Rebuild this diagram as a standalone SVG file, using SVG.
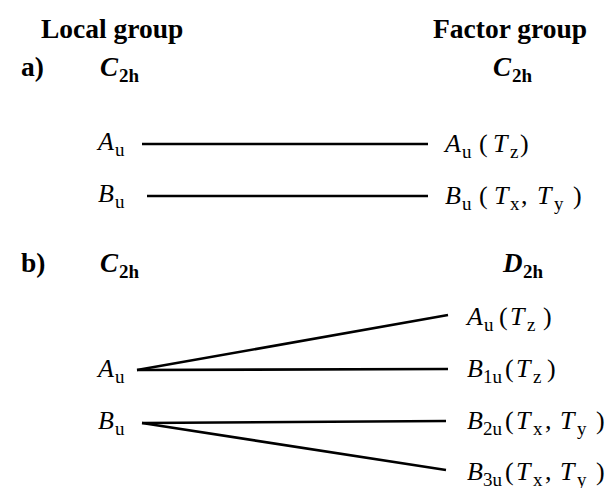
<svg xmlns="http://www.w3.org/2000/svg" width="613" height="488" viewBox="0 0 613 488">
<style>
text{font-family:"Liberation Serif","Times New Roman",serif;fill:#000}
.h{font-weight:bold;font-size:27.5px}
.g{font-weight:bold;font-style:italic;font-size:27px}
.gs{font-weight:bold;font-style:normal;font-size:19px}
.m{font-style:italic;font-size:26px}
.s{font-style:normal;font-size:19px}
.p{font-style:normal;font-size:26px}
.c line{stroke:#000;stroke-width:2.6;fill:none}
</style>
<rect width="613" height="488" fill="#fff"/>
<g id="titles">
<text class="h" x="41" y="38">Local group</text>
<text class="h" x="433" y="38">Factor group</text>
<text class="h" x="21" y="76">a)</text>
<text class="h" x="21" y="272">b)</text>
</g>
<g id="a-local-group"><text class="g" x="100" y="76">C<tspan class="gs" x="119" y="82">2h</tspan></text></g>
<g id="a-factor-group"><text class="g" x="493" y="76">C<tspan class="gs" x="512" y="82">2h</tspan></text></g>
<g id="b-local-group"><text class="g" x="100" y="272">C<tspan class="gs" x="119" y="278">2h</tspan></text></g>
<g id="b-factor-group"><text class="g" x="503" y="272">D<tspan class="gs" x="523" y="278">2h</tspan></text></g>

<g id="a-left-Au"><text class="m" x="98" y="150">A<tspan class="s" x="115" y="156">u</tspan></text></g>
<g id="a-left-Bu"><text class="m" x="98" y="202">B<tspan class="s" x="115" y="208">u</tspan></text></g>
<g id="a-right-Au"><text class="m" x="445" y="152">A<tspan class="s" x="462" y="158">u</tspan><tspan class="p" x="479" y="152">(</tspan><tspan x="493" y="152">T</tspan><tspan class="s" x="510" y="158">z</tspan><tspan class="p" x="520" y="152">)</tspan></text></g>
<g id="a-right-Bu"><text class="m" x="445" y="204">B<tspan class="s" x="462" y="210">u</tspan><tspan class="p" x="479" y="204">(</tspan><tspan x="494" y="204">T</tspan><tspan class="s" x="510" y="210">x</tspan><tspan class="p" x="521" y="204">,</tspan><tspan x="537" y="204">T</tspan><tspan class="s" x="554" y="210">y</tspan><tspan class="p" x="573" y="204">)</tspan></text></g>

<g id="b-left-Au"><text class="m" x="98" y="377">A<tspan class="s" x="115" y="383">u</tspan></text></g>
<g id="b-left-Bu"><text class="m" x="98" y="429">B<tspan class="s" x="115" y="435">u</tspan></text></g>
<g id="b-right-Au"><text class="m" x="467" y="325">A<tspan class="s" x="484" y="331">u</tspan><tspan class="p" x="499" y="325">(</tspan><tspan x="510" y="325">T</tspan><tspan class="s" x="527" y="331">z</tspan><tspan class="p" x="543" y="325">)</tspan></text></g>
<g id="b-right-B1u"><text class="m" x="467" y="377">B<tspan class="s" x="483" y="383">1u</tspan><tspan class="p" x="505" y="377">(</tspan><tspan x="516" y="377">T</tspan><tspan class="s" x="533" y="383">z</tspan><tspan class="p" x="547" y="377">)</tspan></text></g>
<g id="b-right-B2u"><text class="m" x="467" y="429">B<tspan class="s" x="483" y="435">2u</tspan><tspan class="p" x="505" y="429">(</tspan><tspan x="516" y="429">T</tspan><tspan class="s" x="533" y="435">x</tspan><tspan class="p" x="545" y="429">,</tspan><tspan x="560" y="429">T</tspan><tspan class="s" x="577" y="435">y</tspan><tspan class="p" x="596" y="429">)</tspan></text></g>
<g id="b-right-B3u"><text class="m" x="467" y="480">B<tspan class="s" x="483" y="486">3u</tspan><tspan class="p" x="505" y="480">(</tspan><tspan x="516" y="480">T</tspan><tspan class="s" x="533" y="486">x</tspan><tspan class="p" x="545" y="480">,</tspan><tspan x="560" y="480">T</tspan><tspan class="s" x="577" y="486">y</tspan><tspan class="p" x="596" y="480">)</tspan></text></g>

<g id="connectors" class="c">
<line x1="142" y1="144" x2="428" y2="144"/>
<line x1="147" y1="196" x2="428" y2="196"/>
<line x1="137" y1="370" x2="448" y2="315"/>
<line x1="137" y1="370" x2="448" y2="369"/>
<line x1="142" y1="423" x2="446" y2="421"/>
<line x1="142" y1="423" x2="446" y2="470"/>
</g>
</svg>
